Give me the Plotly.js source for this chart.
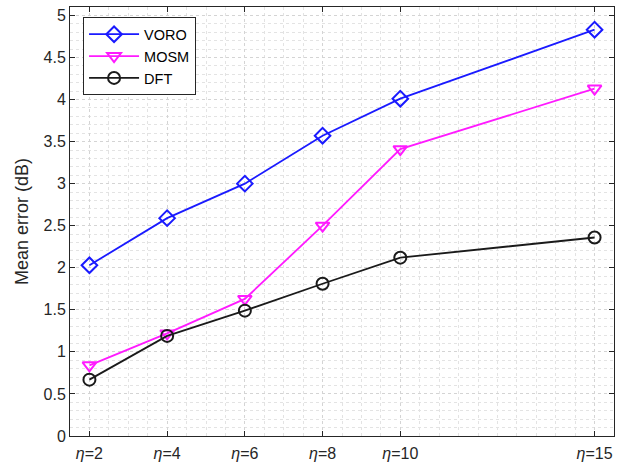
<!DOCTYPE html>
<html>
<head>
<meta charset="utf-8">
<script src="https://cdn.plot.ly/plotly-3.0.1.min.js"></script>
<style>html,body{margin:0;padding:0;background:#fff;}#chart{width:627px;height:468px;}</style>
</head>
<body>
<div id="chart"></div>
<script>
const etaValues = [2, 4, 6, 8, 10, 15];
const tickLabels = ["<i>η</i>=2", "<i>η</i>=4", "<i>η</i>=6", "<i>η</i>=8", "<i>η</i>=10", "<i>η</i>=15"];
const voro = [2.03, 2.59, 3.00, 3.57, 4.01, 4.83];
const mosm = [0.84, 1.22, 1.63, 2.50, 3.41, 4.13];
const dft  = [0.67, 1.19, 1.49, 1.81, 2.12, 2.36];

const traces = [
  {x: etaValues, y: voro, name: "VORO", mode: "lines+markers",
   line: {color: "#1a1aff", width: 1.8},
   marker: {symbol: "diamond-open", size: 12, color: "#1a1aff", line: {width: 2}}},
  {x: etaValues, y: mosm, name: "MOSM", mode: "lines+markers",
   line: {color: "#ff1aff", width: 1.8},
   marker: {symbol: "triangle-down-open", size: 12, color: "#ff1aff", line: {width: 2}}},
  {x: etaValues, y: dft, name: "DFT", mode: "lines+markers",
   line: {color: "#1a1a1a", width: 1.8},
   marker: {symbol: "circle-open", size: 12, color: "#1a1a1a", line: {width: 2}}}
];

const layout = {
  width: 627, height: 468,
  margin: {l: 70, r: 13, t: 7, b: 32},
  paper_bgcolor: "#fff", plot_bgcolor: "#fff",
  font: {family: "Liberation Sans, Arial, sans-serif", size: 16, color: "#262626"},
  showlegend: true,
  legend: {x: 0.024, y: 0.976, xanchor: "left", yanchor: "top",
           bgcolor: "#fff", bordercolor: "#262626", borderwidth: 1,
           font: {size: 14.5, color: "#000"}, tracegroupgap: 0, itemwidth: 50},
  xaxis: {
    range: [1.5, 15.5], tickmode: "array", tickvals: etaValues, ticktext: tickLabels,
    tickfont: {size: 16, color: "#262626"},
    showline: true, linecolor: "#262626", linewidth: 1, mirror: "ticks",
    ticks: "inside", ticklen: 5, tickcolor: "#262626", ticklabelstandoff: 3,
    showgrid: true, gridcolor: "#d4d4d4", griddash: "dot", gridwidth: 1,
    zeroline: false,
    minor: {dtick: 0.5, tick0: 1.5, showgrid: true, gridcolor: "#e3e3e3", griddash: "dot", gridwidth: 1, ticks: ""}
  },
  yaxis: {
    range: [0, 5.1], dtick: 0.5, tick0: 0,
    tickfont: {size: 16, color: "#262626"},
    title: {text: "Mean error (dB)", font: {size: 18, color: "#262626"}, standoff: 10},
    showline: true, linecolor: "#262626", linewidth: 1, mirror: "ticks",
    ticks: "inside", ticklen: 5, tickcolor: "#262626",
    showgrid: true, gridcolor: "#d4d4d4", griddash: "dot", gridwidth: 1,
    zeroline: false,
    minor: {dtick: 0.1, showgrid: true, gridcolor: "#e3e3e3", griddash: "dot", gridwidth: 1, ticks: ""}
  }
};

Plotly.newPlot("chart", traces, layout, {displayModeBar: false, staticPlot: true});
</script>
</body>
</html>
